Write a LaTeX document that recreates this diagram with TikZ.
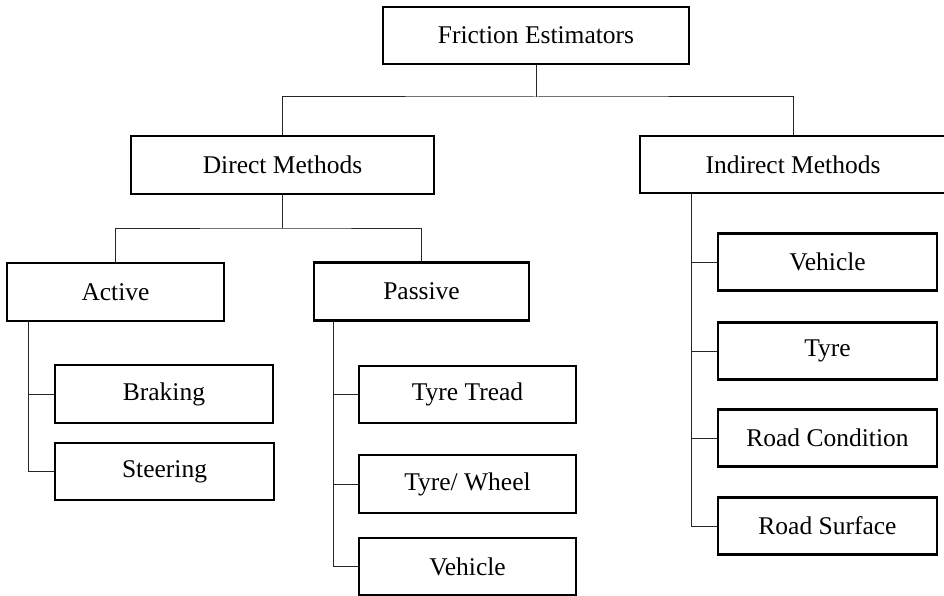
\documentclass[tikz,border=0pt]{standalone}
\usepackage{fontspec}
\setmainfont{Liberation Serif}
\begin{document}
\begin{tikzpicture}[x=1pt,y=-1pt,
  box/.style={draw=black, line width=2.8pt, fill=white, inner sep=0pt,
    font=\fontsize{25.5}{28}\selectfont, text=black},
  conn/.style={draw=black!85, line width=1pt}]
\useasboundingbox (0,0) rectangle (944,596);
% connectors first (boxes drawn on top)
\coordinate (j1) at (536,97);
\coordinate (j2) at (282.5,228);
% nodes
\node[box, minimum width=306, minimum height=57] (fe) at (536,35.5) {Friction Estimators};
\node[box, minimum width=303, minimum height=58] (dm) at (282.5,165) {Direct Methods};
\node[box, minimum width=306, minimum height=57] (im) at (793,164.5) {Indirect Methods};
\node[box, minimum width=217, minimum height=58] (act) at (115.5,292) {Active};
\node[box, minimum width=215, minimum height=58] (pas) at (421.5,291.5) {Passive};
\node[box, minimum width=218, minimum height=58] (brk) at (164,394) {Braking};
\node[box, minimum width=219, minimum height=57] (str) at (164.5,471.5) {Steering};
\node[box, minimum width=217, minimum height=57] (tt) at (467.5,394.5) {Tyre Tread};
\node[box, minimum width=217, minimum height=58] (tw) at (467.5,484) {Tyre/ Wheel};
\node[box, minimum width=217, minimum height=57] (vp) at (467.5,566.5) {Vehicle};
\node[box, minimum width=219, minimum height=57] (vi) at (827.5,262) {Vehicle};
\node[box, minimum width=219, minimum height=57] (ty) at (827.5,351) {Tyre};
\node[box, minimum width=219, minimum height=57] (rc) at (827.5,438) {Road Condition};
\node[box, minimum width=219, minimum height=57] (rs) at (827.5,526) {Road Surface};
% trunk tops
\coordinate (ta) at ([xshift=23pt]act.south west);
\coordinate (tp) at ([xshift=21pt]pas.south west);
\coordinate (ti) at ([xshift=53pt]im.south west);
% connectors
\draw[conn] (fe.south) -- (j1);
\draw[conn] (dm.north) |- (j1) -| (im.north);
\draw[conn] (dm.south) -- (j2);
\draw[conn] (act.north) |- (j2) -| (pas.north);
\draw[conn] (ta) |- (str.west);
\draw[conn] (ta |- brk.west) -- (brk.west);
\draw[conn] (tp) |- (vp.west);
\draw[conn] (tp |- tt.west) -- (tt.west);
\draw[conn] (tp |- tw.west) -- (tw.west);
\draw[conn] (ti) |- (rs.west);
\draw[conn] (ti |- vi.west) -- (vi.west);
\draw[conn] (ti |- ty.west) -- (ty.west);
\draw[conn] (ti |- rc.west) -- (rc.west);
\end{tikzpicture}
\end{document}
